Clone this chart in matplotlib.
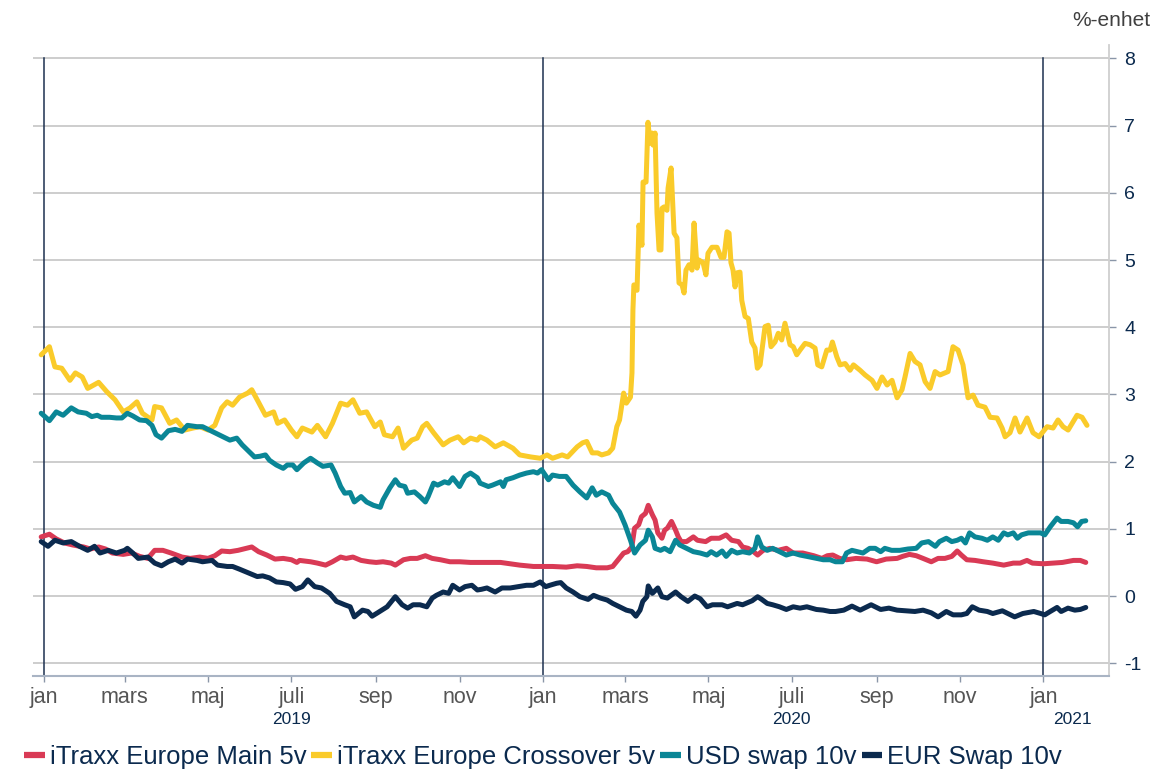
import matplotlib
matplotlib.use("Agg")
import matplotlib.pyplot as plt
import matplotlib.dates as mdates
import matplotlib.transforms as mtrans
from matplotlib import font_manager
import pandas as pd

# ---------------- data (day offsets from 2019-01-01, values in %-enhet) ----------------
BASE = "2019-01-01"

main_days = [-2, 4, 9, 15, 21, 29, 34, 40, 45, 50, 58, 64, 70, 76, 81, 87, 93, 101, 107, 114, 120, 125,
             130, 136, 142, 148, 152, 157, 163, 169, 175, 181, 185, 187, 195, 200, 206, 211, 217, 221, 226,
             232, 238, 243, 248, 254, 257, 263, 268, 273, 279, 284, 290, 297, 304, 312, 319, 326, 334, 341,
             348, 358, 365, 372, 382, 390, 397, 404, 412, 416, 420, 424, 427, 430, 432, 435, 437, 440, 442,
             445, 447, 449, 452, 454, 456, 459, 462, 464, 466, 470, 475, 478, 484, 488, 494, 499, 503, 508,
             511, 515, 519, 522, 526, 531, 537, 543, 548, 555, 563, 569, 573, 577, 582, 587, 594, 602, 609,
             616, 624, 628, 633, 638, 643, 649, 654, 659, 664, 668, 671, 675, 681, 687, 694, 702, 709, 714,
             719, 723, 731, 738, 745, 753, 758, 762]
main_vals = [0.88, 0.92, 0.85, 0.79, 0.76, 0.73, 0.70, 0.73, 0.70, 0.64, 0.62, 0.64, 0.59, 0.56, 0.68, 0.68,
             0.64, 0.58, 0.56, 0.58, 0.56, 0.60, 0.67, 0.66, 0.68, 0.71, 0.73, 0.66, 0.61, 0.55, 0.56, 0.54,
             0.50, 0.53, 0.51, 0.49, 0.46, 0.51, 0.58, 0.56, 0.58, 0.53, 0.51, 0.50, 0.51, 0.49, 0.46, 0.54,
             0.56, 0.56, 0.60, 0.56, 0.54, 0.51, 0.51, 0.50, 0.50, 0.50, 0.50, 0.48, 0.46, 0.44, 0.44, 0.44,
             0.43, 0.45, 0.44, 0.42, 0.42, 0.44, 0.54, 0.64, 0.66, 0.73, 1.01, 1.06, 1.18, 1.23, 1.35, 1.21,
             1.13, 0.94, 0.86, 0.98, 1.01, 1.11, 0.98, 0.88, 0.81, 0.81, 0.88, 0.83, 0.81, 0.86, 0.86, 0.91,
             0.83, 0.81, 0.73, 0.71, 0.66, 0.61, 0.68, 0.71, 0.68, 0.71, 0.64, 0.64, 0.60, 0.56, 0.60, 0.61,
             0.56, 0.54, 0.56, 0.55, 0.51, 0.55, 0.56, 0.59, 0.62, 0.60, 0.56, 0.51, 0.56, 0.56, 0.59, 0.67,
             0.61, 0.54, 0.53, 0.51, 0.49, 0.46, 0.49, 0.49, 0.53, 0.49, 0.48, 0.49, 0.50, 0.53, 0.53, 0.50]

xover_days = [-2, 4, 8, 13, 19, 23, 28, 32, 40, 46, 52, 58, 63, 68, 72, 79, 81, 86, 92, 97, 103, 109, 114,
              120, 125, 130, 134, 138, 143, 149, 152, 156, 162, 168, 171, 176, 181, 185, 189, 196, 200, 206,
              211, 217, 222, 226, 231, 236, 242, 246, 249, 255, 259, 263, 269, 273, 277, 280, 285, 292, 297,
              303, 307, 312, 317, 319, 324, 330, 336, 343, 348, 356, 363, 368, 372, 379, 383, 390, 394, 397,
              401, 405, 408, 413, 416, 419, 421, 424, 426, 429, 430.1, 430.8, 431.5, 433.8, 435.2, 437.4,
              438.2, 440.4, 441.8, 443.3, 444.8, 445.5, 447.0, 448.4, 449.9, 451.3, 452.1, 453.5, 455.7,
              456.5, 458.7, 460.9, 463.0, 464.5, 466.7, 468.2, 469.6, 471.8, 474.0, 475.5, 477.7, 479.1,
              482.1, 484.2, 485.7, 488.6, 492.3, 495.2, 497.4, 499.6, 501.1, 502.5, 504.0, 505.5, 506.9,
              509.1, 510.4, 512.8, 515.2, 517.7, 520.1, 521.8, 523.8, 527.4, 529.8, 531.8, 534.7, 537.1,
              539.6, 542.0, 545.7, 548.1, 550.6, 553.0, 556.7, 560.3, 564.0, 566.0, 568.9, 572.6, 575.0,
              576.7, 579.9, 582.3, 586.0, 589.6, 592.1, 596.9, 600.6, 605.7, 609.3, 613.0, 616.7, 620.3,
              624.0, 627.6, 629.8, 633.5, 637.1, 640.8, 644.5, 648.1, 651.8, 655.4, 661.3, 664.9, 668.6,
              672.2, 675.9, 679.6, 683.2, 688.3, 692.0, 697.1, 700.8, 703.0, 706.6, 710.3, 713.9, 719.1,
              723.4, 727.8, 733.7, 738.1, 741.7, 745.4, 749.1, 755.6, 759.3, 762.9]
xover_vals = [3.59, 3.71, 3.41, 3.39, 3.21, 3.32, 3.26, 3.09, 3.18, 3.04, 2.92, 2.74, 2.80, 2.89, 2.72, 2.62,
              2.82, 2.80, 2.57, 2.62, 2.47, 2.50, 2.52, 2.47, 2.54, 2.80, 2.89, 2.84, 2.96, 3.02, 3.07, 2.92,
              2.69, 2.74, 2.57, 2.62, 2.47, 2.37, 2.50, 2.44, 2.54, 2.37, 2.57, 2.87, 2.84, 2.92, 2.72, 2.74,
              2.52, 2.59, 2.40, 2.37, 2.50, 2.20, 2.32, 2.35, 2.52, 2.57, 2.43, 2.25, 2.32, 2.37, 2.28, 2.35,
              2.32, 2.37, 2.32, 2.22, 2.28, 2.20, 2.10, 2.07, 2.05, 2.10, 2.05, 2.10, 2.07, 2.22, 2.28, 2.30,
              2.13, 2.13, 2.10, 2.13, 2.20, 2.52, 2.62, 3.02, 2.87, 2.96, 3.32, 4.26, 4.63, 4.55, 5.52, 5.22,
              6.16, 6.16, 7.05, 6.74, 6.89, 6.71, 6.89, 5.70, 5.15, 5.15, 5.77, 5.79, 5.74, 6.07, 6.37, 5.40,
              5.33, 4.66, 4.63, 4.51, 4.85, 4.93, 4.85, 5.55, 4.88, 5.00, 4.96, 4.78, 5.10, 5.19, 5.19, 5.04,
              5.04, 5.42, 5.40, 4.96, 4.85, 4.60, 4.81, 4.82, 4.40, 4.16, 4.13, 3.78, 3.69, 3.39, 3.44, 4.01,
              4.03, 3.71, 3.78, 3.91, 3.81, 4.06, 3.74, 3.71, 3.59, 3.66, 3.76, 3.74, 3.69, 3.44, 3.41, 3.66,
              3.66, 3.78, 3.56, 3.44, 3.46, 3.36, 3.44, 3.36, 3.29, 3.21, 3.09, 3.26, 3.14, 3.21, 2.95, 3.07,
              3.26, 3.61, 3.49, 3.44, 3.19, 3.09, 3.34, 3.29, 3.34, 3.71, 3.66, 3.44, 2.95, 2.99, 2.84, 2.81,
              2.66, 2.65, 2.50, 2.37, 2.43, 2.65, 2.44, 2.65, 2.43, 2.37, 2.52, 2.50, 2.62, 2.52, 2.47, 2.69,
              2.66, 2.54]

usd_days = [-2, 4, 9, 14, 20, 25, 31, 35, 39, 42, 48, 53, 57, 61, 65, 70, 75, 79, 82, 86, 91, 96, 101, 105,
            112, 116, 121, 126, 131, 136, 141, 145, 149, 154, 158, 162, 165, 170, 175, 178, 182, 185, 190,
            195, 200, 204, 210, 213, 217, 220, 224, 227, 232, 236, 241, 246, 248, 253, 257, 260, 264, 266,
            271, 275, 279, 281, 285, 288, 293, 296, 299, 304, 308, 312, 317, 319, 325, 328, 334, 336, 338,
            343, 348, 353, 358, 361, 364, 369, 372, 377, 382, 387, 392, 397, 401, 404, 408, 413, 416, 421,
            425, 429, 432, 436, 440, 442, 445, 447, 451, 454, 458, 462, 465, 470, 475, 480, 485, 488, 492,
            496, 499, 503, 507, 511, 516, 520, 522, 525, 529, 533, 538, 543, 548, 553, 558, 565, 570, 575,
            579, 584, 587, 591, 595, 599, 604, 608, 612, 615, 620, 626, 632, 638, 642, 647, 652, 655, 660,
            664, 668, 671, 674, 677, 681, 686, 690, 694, 698, 702, 705, 709, 712, 715, 720, 725, 729, 732,
            736, 741, 744, 749, 753, 756, 759, 762]
usd_vals = [2.72, 2.61, 2.74, 2.69, 2.80, 2.74, 2.72, 2.67, 2.69, 2.66, 2.66, 2.65, 2.65, 2.72, 2.68, 2.62,
            2.61, 2.54, 2.40, 2.35, 2.46, 2.48, 2.45, 2.54, 2.52, 2.52, 2.47, 2.42, 2.37, 2.32, 2.35, 2.25,
            2.17, 2.07, 2.08, 2.10, 2.02, 1.95, 1.90, 1.95, 1.95, 1.88, 1.98, 2.05, 1.98, 1.93, 1.95, 1.83,
            1.63, 1.53, 1.54, 1.40, 1.48, 1.40, 1.35, 1.32, 1.43, 1.61, 1.73, 1.65, 1.63, 1.53, 1.55, 1.48,
            1.40, 1.48, 1.68, 1.65, 1.70, 1.68, 1.76, 1.63, 1.78, 1.83, 1.76, 1.68, 1.63, 1.65, 1.70, 1.63,
            1.73, 1.76, 1.80, 1.83, 1.85, 1.83, 1.88, 1.73, 1.80, 1.78, 1.78, 1.65, 1.55, 1.46, 1.61, 1.50,
            1.55, 1.50, 1.38, 1.25, 1.06, 0.83, 0.64, 0.76, 0.83, 0.98, 0.88, 0.71, 0.68, 0.71, 0.66, 0.83,
            0.76, 0.71, 0.66, 0.64, 0.61, 0.66, 0.61, 0.67, 0.59, 0.68, 0.64, 0.66, 0.64, 0.71, 0.88, 0.73,
            0.68, 0.71, 0.66, 0.61, 0.64, 0.61, 0.59, 0.56, 0.54, 0.54, 0.51, 0.51, 0.64, 0.68, 0.66, 0.64,
            0.71, 0.71, 0.66, 0.71, 0.68, 0.68, 0.70, 0.71, 0.79, 0.81, 0.74, 0.81, 0.86, 0.81, 0.83, 0.86,
            0.79, 0.94, 0.88, 0.86, 0.83, 0.88, 0.83, 0.94, 0.91, 0.94, 0.86, 0.91, 0.94, 0.94, 0.94, 0.91,
            1.03, 1.16, 1.11, 1.11, 1.09, 1.03, 1.11, 1.12]

eur_days = [-2, 3, 8, 14, 20, 26, 32, 37, 41, 47, 53, 59, 61, 65, 69, 76, 81, 86, 91, 96, 101, 105, 112,
            116, 123, 127, 134, 138, 143, 149, 156, 160, 165, 170, 175, 180, 184, 189, 193, 198, 203, 209,
            214, 220, 224, 227, 233, 237, 240, 244, 251, 257, 262, 266, 270, 275, 280, 284, 287, 292, 296,
            299, 304, 308, 313, 317, 320, 324, 330, 335, 341, 347, 353, 358, 363, 367, 370, 375, 378, 382,
            387, 392, 398, 402, 407, 412, 416, 421, 426, 430, 433, 436, 438, 441, 442, 445, 447, 449, 452,
            456, 462, 466, 471, 476, 480, 485, 489, 496, 500, 507, 511, 518, 522, 525, 529, 533, 538, 543,
            548, 553, 558, 565, 570, 575, 579, 585, 591, 597, 605, 612, 618, 624, 631, 637, 643, 649, 654,
            660, 665, 671, 675, 679, 684, 690, 694, 701, 705, 710, 716, 724, 729, 732, 736, 741, 744, 749,
            754, 758, 762]
eur_vals = [0.81, 0.74, 0.83, 0.79, 0.81, 0.74, 0.68, 0.74, 0.64, 0.68, 0.64, 0.68, 0.71, 0.64, 0.56, 0.58,
            0.49, 0.45, 0.51, 0.55, 0.49, 0.55, 0.53, 0.51, 0.53, 0.46, 0.44, 0.44, 0.40, 0.35, 0.29, 0.30,
            0.27, 0.21, 0.20, 0.18, 0.10, 0.14, 0.24, 0.14, 0.12, 0.04, -0.08, -0.13, -0.16, -0.31, -0.21,
            -0.23, -0.30, -0.25, -0.16, -0.01, -0.13, -0.18, -0.13, -0.13, -0.16, -0.03, 0.01, 0.06, 0.04,
            0.16, 0.09, 0.14, 0.16, 0.09, 0.10, 0.12, 0.06, 0.12, 0.12, 0.14, 0.16, 0.16, 0.21, 0.14, 0.16,
            0.19, 0.20, 0.12, 0.06, -0.01, -0.05, 0.01, -0.03, -0.06, -0.11, -0.16, -0.21, -0.23, -0.30,
            -0.21, -0.08, -0.01, 0.15, 0.04, 0.08, 0.12, -0.01, -0.03, 0.06, -0.01, -0.08, 0.00, -0.04,
            -0.16, -0.13, -0.13, -0.16, -0.11, -0.13, -0.07, -0.01, -0.05, -0.11, -0.13, -0.16, -0.20,
            -0.16, -0.18, -0.16, -0.20, -0.21, -0.23, -0.23, -0.21, -0.15, -0.21, -0.13, -0.20, -0.18,
            -0.21, -0.22, -0.23, -0.21, -0.25, -0.31, -0.23, -0.28, -0.28, -0.26, -0.16, -0.21, -0.23,
            -0.26, -0.22, -0.26, -0.31, -0.26, -0.23, -0.26, -0.28, -0.23, -0.17, -0.23, -0.18, -0.21,
            -0.20, -0.17]

series_labels = ["iTraxx Europe Main 5v", "iTraxx Europe Crossover 5v", "USD swap 10v", "EUR Swap 10v"]
series_colors = ["#D93A55", "#FACB2A", "#0A8696", "#0B2A4E"]
month_labels = ["jan", "mars", "maj", "juli", "sep", "nov"]
year_labels = ["2019", "2020", "2021"]
y_ticks = list(range(-1, 9))
unit_label = "%-enhet"

# ---------------- fonts ----------------
avail = {f.name for f in font_manager.fontManager.ttflist}
fam = [f for f in ["Liberation Sans Narrow", "Liberation Sans", "DejaVu Sans"] if f in avail]
plt.rcParams["font.family"] = fam
plt.rcParams["axes.unicode_minus"] = False

def to_dates(days):
    return pd.Timestamp(BASE) + pd.to_timedelta(days, unit="D")

fig = plt.figure(figsize=(11.73, 7.75), dpi=100)
ax = fig.add_axes([33 / 1173, 99 / 775, (1109 - 33) / 1173, (676 - 45) / 775])

all_days = [main_days, xover_days, usd_days, eur_days]
all_vals = [main_vals, xover_vals, usd_vals, eur_vals]
for i, (d, v) in enumerate(zip(all_days, all_vals)):
    ax.plot(to_dates(d), v, color=series_colors[i], lw=3.6, label=series_labels[i],
            solid_joinstyle="round", solid_capstyle="round", zorder=3 + i)

ax.set_ylim(-1.19, 8.2)
ax.set_xlim(pd.Timestamp("2018-12-24"), pd.Timestamp("2021-02-18"))

# year separators
for yr in year_labels:
    ax.plot([pd.Timestamp(f"{yr}-01-01")] * 2, [-1.19, 8.0], color="#1C3050", lw=1.1, zorder=2)

# grid
ax.set_yticks(y_ticks)
ax.yaxis.grid(True, color="#C9C9C9", lw=1.3, zorder=0)
ax.set_axisbelow(True)
ax.yaxis.tick_right()
ax.tick_params(axis="y", which="both", direction="out", length=5, width=1, color="#8A96A8",
               labelsize=14, labelcolor="#0B2A4E", pad=6)

# x ticks at every second month start
ticks = pd.date_range("2019-01-01", "2021-01-01", freq="2MS")
ax.set_xticks(ticks)
ax.set_xticklabels([month_labels[(t.month - 1) // 2] for t in ticks])
ax.tick_params(axis="x", direction="out", length=4, width=1, color="#8A96A8",
               labelsize=15.5, labelcolor="#555555", pad=4)

for s in ["left", "top"]:
    ax.spines[s].set_visible(False)
ax.spines["bottom"].set_color("#A9B4C4")
ax.spines["bottom"].set_linewidth(1.5)
ax.spines["right"].set_color("#CFCFCF")
ax.spines["right"].set_linewidth(1.3)

# year labels
trans = mtrans.blended_transform_factory(ax.transData, fig.transFigure)
year_pos = ["2019-07-01", "2020-07-01", "2021-01-22"]
for lab, pos in zip(year_labels, year_pos):
    fig.text(mdates.date2num(pd.Timestamp(pos)), 1 - 720 / 775, lab, transform=trans,
             ha="center", va="center", fontsize=12.5, color="#0B2A4E")

fig.text(1150 / 1173, 1 - 20 / 775, unit_label, ha="right", va="center", fontsize=15, color="#404040")

handles, labels = ax.get_legend_handles_labels()
leg = fig.legend(handles, labels, loc="center left", bbox_to_anchor=(24 / 1173, 1 - 757 / 775),
                 ncol=4, frameon=False, handlelength=0.8, handletextpad=0.2, columnspacing=0.2,
                 fontsize=18.5, borderaxespad=0, borderpad=0)
for line in leg.get_lines():
    line.set_linewidth(4.5)
    line.set_solid_capstyle("butt")
for t in leg.get_texts():
    t.set_color("#0B2A4E")

fig.savefig("out.png", dpi=100)
